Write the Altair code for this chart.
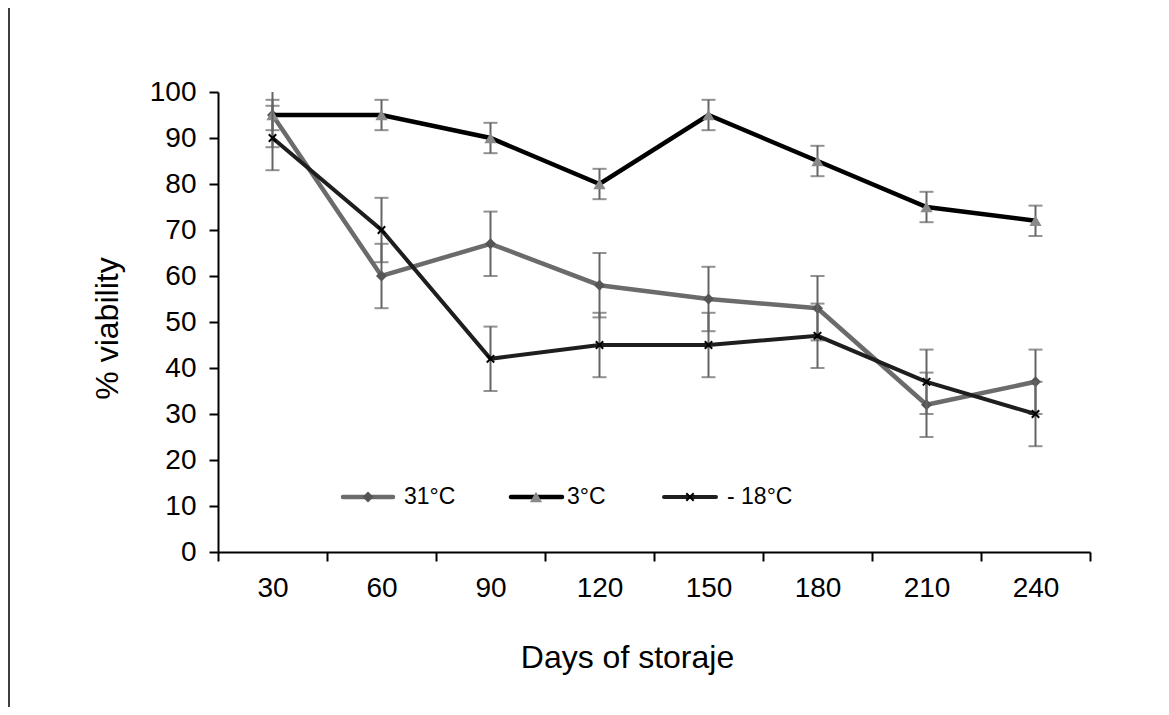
import altair as alt
import pandas as pd

days = ["30", "60", "90", "120", "150", "180", "210", "240"]
series_names = ["31°C", "3°C", "- 18°C"]
v31 = [95, 60, 67, 58, 55, 53, 32, 37]
v3 = [95, 95, 90, 80, 95, 85, 75, 72]
v18 = [90, 70, 42, 45, 45, 47, 37, 30]
e31 = [7, 7, 7, 7, 7, 7, 7, 7]
e3 = [3.3, 3.3, 3.3, 3.3, 3.3, 3.3, 3.3, 3.3]
e18 = [7, 7, 7, 7, 7, 7, 7, 7]

FONT = "Liberation Sans"

styles = {
    "31°C": dict(line="#6b6b6b", lw=4.5, mcolor="#555555", shape="diamond", msize=120, filled=True),
    "3°C": dict(line="#000000", lw=4.5, mcolor="#8a8a8a", shape="triangle-up", msize=150, filled=True),
    "- 18°C": dict(line="#1e1e1e", lw=4, mcolor="#000000", shape="M-1,-1L1,1M-1,1L1,-1", msize=55, filled=False),
}

def frame(name, vals, errs):
    return pd.DataFrame({
        "day": days,
        "series": name,
        "value": vals,
        "lo": [v - e for v, e in zip(vals, errs)],
        "hi": [v + e for v, e in zip(vals, errs)],
    })

frames = {
    "31°C": frame("31°C", v31, e31),
    "3°C": frame("3°C", v3, e3),
    "- 18°C": frame("- 18°C", v18, e18),
}

xscale = alt.Scale(type="band", paddingInner=0, paddingOuter=0)
yscale = alt.Scale(domain=[0, 100])

x_axis = alt.Axis(
    title="Days of storaje", labelAngle=0, tickBand="extent", grid=False,
    labelFont=FONT, labelFontSize=28, labelColor="#000000", labelPadding=13,
    titleFont=FONT, titleFontSize=32, titleFontWeight="normal", titleColor="#000000",
    titleX=409, titleY=115, titleBaseline="alphabetic", titleAlign="center",
    domainColor="#000000", domainWidth=2, tickColor="#000000", tickWidth=2, tickSize=9,
)
y_axis = alt.Axis(
    title="% viability", values=list(range(0, 101, 10)), grid=False,
    labelFont=FONT, labelFontSize=28, labelColor="#000000", labelPadding=13,
    titleFont=FONT, titleFontSize=32, titleFontWeight="normal", titleColor="#000000",
    titleX=-101, titleY=236, titleAngle=-90, titleBaseline="alphabetic", titleAlign="center",
    domainColor="#000000", domainWidth=2, tickColor="#000000", tickWidth=2, tickSize=9,
)

def X():
    return alt.X("day:N", sort=days, scale=xscale, bandPosition=0.5, axis=x_axis, title="Days of storaje")

def Y(field):
    return alt.Y(field, scale=yscale, axis=y_axis, title="% viability")

layers = []
for name in series_names:
    st = styles[name]
    base = alt.Chart(frames[name])
    err = base.mark_rule(color="#646464", strokeWidth=2, clip=True).encode(
        x=X(), y=Y("lo:Q"), y2="hi:Q")
    cap_lo = base.mark_tick(color="#646464", thickness=2, size=14, clip=True).encode(
        x=X(), y=Y("lo:Q"))
    cap_hi = base.mark_tick(color="#646464", thickness=2, size=14, clip=True).encode(
        x=X(), y=Y("hi:Q"))
    line = base.mark_line(color=st["line"], strokeWidth=st["lw"]).encode(
        x=X(), y=Y("value:Q"))
    if st["filled"]:
        pts = base.mark_point(shape=st["shape"], filled=True, color=st["mcolor"], size=st["msize"], opacity=1).encode(
            x=X(), y=Y("value:Q"))
    else:
        pts = base.mark_point(shape=st["shape"], filled=False, color=st["mcolor"], size=st["msize"],
                              strokeWidth=2, opacity=1).encode(x=X(), y=Y("value:Q"))
    layers += [err, cap_lo, cap_hi, line, pts]

# legend (inside plot, custom)
leg_pos = {
    "31°C": (125, 175, 150, 186),
    "3°C": (293, 344, 318, 349),
    "- 18°C": (446, 498, 472, 509),
}
LEG_Y = 405
for name in series_names:
    st = styles[name]
    x1, x2, xm, xt = leg_pos[name]
    ld = alt.Chart(pd.DataFrame({"label": [name]}))
    layers.append(ld.mark_rule(color=st["line"], strokeWidth=st["lw"], strokeCap="round").encode(
        x=alt.value(x1), x2=alt.value(x2), y=alt.value(LEG_Y)))
    if st["filled"]:
        layers.append(ld.mark_point(shape=st["shape"], filled=True, color=st["mcolor"], size=st["msize"], opacity=1).encode(
            x=alt.value(xm), y=alt.value(LEG_Y)))
    else:
        layers.append(ld.mark_point(shape=st["shape"], filled=False, color=st["mcolor"], size=st["msize"],
                                    strokeWidth=2, opacity=1).encode(x=alt.value(xm), y=alt.value(LEG_Y)))
    layers.append(ld.mark_text(align="left", baseline="middle", font=FONT, fontSize=23, color="#000000").encode(
        x=alt.value(xt), y=alt.value(LEG_Y), text="label:N"))

# left frame line
layers.append(alt.Chart(pd.DataFrame({"a": [0]})).mark_rule(color="#000000", strokeWidth=1.5).encode(
    x=alt.value(-209), y=alt.value(-84), y2=alt.value(615)))

chart = alt.layer(*layers).properties(
    width=872, height=460,
    autosize=alt.AutoSizeParams(type="none"),
    padding={"left": 210, "top": 84, "right": 60, "bottom": 155},
    background="white",
).configure_view(stroke=None)

chart.save("out.html", embed_options={"renderer": "svg", "actions": False})
